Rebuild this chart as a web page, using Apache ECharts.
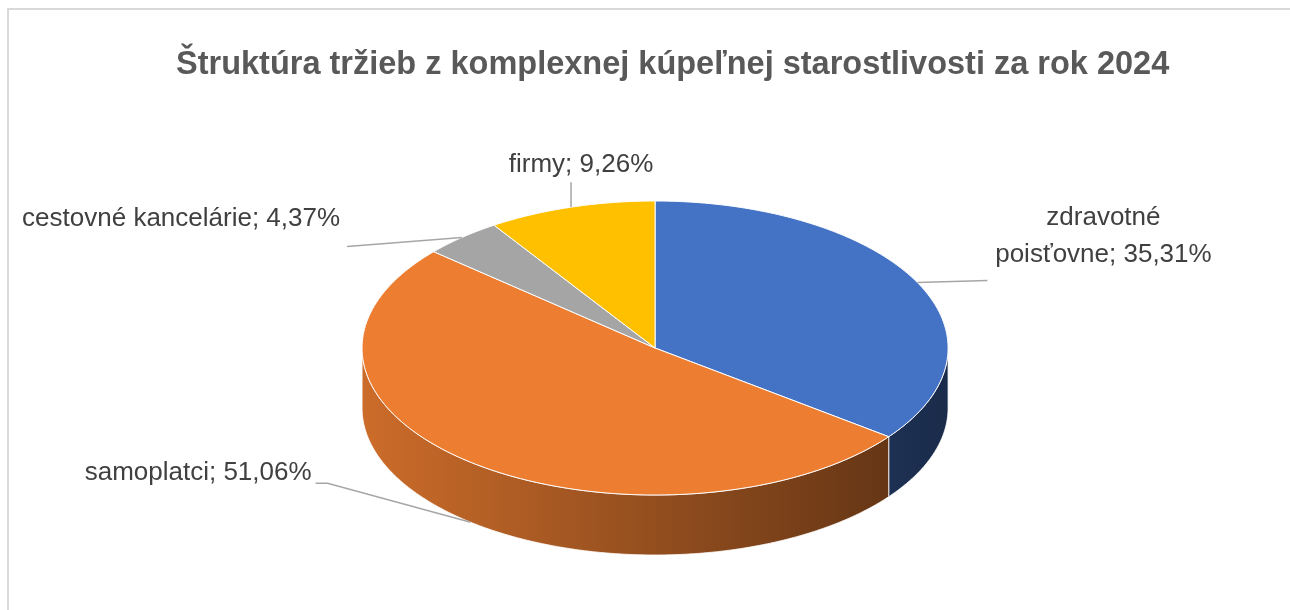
<!DOCTYPE html>
<html>
<head>
<meta charset="utf-8">
<script src="https://cdn.jsdelivr.net/npm/echarts@6/dist/echarts.min.js"></script>
<style>
  html, body { margin: 0; padding: 0; background: #fff; }
  #main { width: 1290px; height: 610px; }
</style>
</head>
<body>
<div id="main"></div>
<script>
const titleText = 'Štruktúra tržieb z komplexnej kúpeľnej starostlivosti za rok 2024';
const categories = ['zdravotné\npoisťovne', 'samoplatci', 'cestovné kancelárie', 'firmy'];
const shares = [35.31, 51.06, 4.37, 9.26];
const sliceColors = ['#4472C4', '#ED7D31', '#A5A5A5', '#FFC000'];

// 3d-ish pie geometry (fractions of the chart box for the centre, px for radii)
const pie = {cx: 0.5078, cy: 0.5705, rx: 293, ry: 147, depth: 60};

// leader lines / label text, offsets from the anchor on the slice edge
const labelLayout = [
  {line: [[70, -2]], text: [186, -46], align: 'center'},
  {line: [[-143, -39], [-155, -39]], text: [-159, -49], align: 'right'},
  {line: [[-115, 9]], text: [-122, -19], align: 'right'},
  {line: [[0, -25]], text: [10, -42], align: 'center'}
];

const total = shares.reduce((s, v) => s + v, 0);
const starts = [];
let acc = 0;
shares.forEach(v => { starts.push(acc); acc += v; });

const shade = (hex, f) => {
  const n = parseInt(hex.slice(1), 16);
  const r = Math.round(((n >> 16) & 255) * f);
  const g = Math.round(((n >> 8) & 255) * f);
  const b = Math.round((n & 255) * f);
  return `rgb(${r},${g},${b})`;
};

const pt = (cx, cy, a, dy) => [cx + pie.rx * Math.sin(a), cy - pie.ry * Math.cos(a) + (dy || 0)];

const arc = (cx, cy, a0, a1, dy) => {
  const n = Math.max(2, Math.ceil(Math.abs(a1 - a0) / 0.01));
  const pts = [];
  for (let k = 0; k <= n; k++) {
    pts.push(pt(cx, cy, a0 + (a1 - a0) * k / n, dy));
  }
  return pts;
};

const fmt = v => v.toFixed(2).replace('.', ',') + '%';

function renderItem(params, api) {
  const i = params.dataIndex;
  const W = api.getWidth(), H = api.getHeight();
  const cx = W * pie.cx, cy = H * pie.cy;
  const a0 = api.value(1) / total * Math.PI * 2;
  const a1 = (api.value(1) + api.value(0)) / total * Math.PI * 2;
  const color = sliceColors[i];
  const children = [];

  // side wall, only the front half is visible
  const s = Math.max(a0, Math.PI / 2), e = Math.min(a1, Math.PI * 1.5);
  if (e > s) {
    const pts = arc(cx, cy, s, e, 0).concat(arc(cx, cy, e, s, pie.depth));
    children.push({
      type: 'polygon',
      z2: 1,
      shape: {points: pts},
      style: {
        fill: new echarts.graphic.LinearGradient(cx - pie.rx, 0, cx + pie.rx, 0, [
          {offset: 0, color: shade(color, 0.86)},
          {offset: 1, color: shade(color, 0.38)}
        ], true),
        stroke: '#ffffff',
        lineWidth: 0.8
      }
    });
  }

  // top face
  children.push({
    type: 'polygon',
    z2: 2,
    shape: {points: [[cx, cy]].concat(arc(cx, cy, a0, a1, 0))},
    style: {fill: color, stroke: '#ffffff', lineWidth: 1}
  });

  // leader line + label
  const mid = (a0 + a1) / 2;
  const anchor = pt(cx, cy, mid, Math.cos(mid) < 0 ? pie.depth : 0);
  const lay = labelLayout[i];
  children.push({
    type: 'polyline',
    z2: 3,
    shape: {points: [anchor].concat(lay.line.map(d => [anchor[0] + d[0], anchor[1] + d[1]]))},
    style: {stroke: '#A6A6A6', lineWidth: 1.5, fill: null}
  });
  children.push({
    type: 'text',
    z2: 4,
    style: {
      text: categories[i] + '; ' + fmt(api.value(0)),
      x: anchor[0] + lay.text[0],
      y: anchor[1] + lay.text[1],
      fill: '#404040',
      fontSize: 26,
      fontFamily: 'Liberation Sans',
      align: lay.align,
      verticalAlign: 'middle',
      lineHeight: 37
    }
  });

  return {type: 'group', children: children};
}

const chart = echarts.init(document.getElementById('main'));
chart.setOption({
  animation: false,
  backgroundColor: '#ffffff',
  title: {
    text: titleText,
    left: 171,
    top: 44,
    textStyle: {
      fontSize: 32.5,
      fontWeight: 'bold',
      color: '#595959',
      fontFamily: 'Liberation Sans'
    }
  },
  graphic: [{
    type: 'rect',
    silent: true,
    shape: {x: 8, y: 9, width: 1400, height: 700},
    style: {fill: 'none', stroke: '#D9D9D9', lineWidth: 2}
  }],
  series: [{
    type: 'custom',
    coordinateSystem: 'none',
    silent: true,
    renderItem: renderItem,
    data: shares.map((v, i) => [v, starts[i]])
  }]
});
</script>
</body>
</html>
